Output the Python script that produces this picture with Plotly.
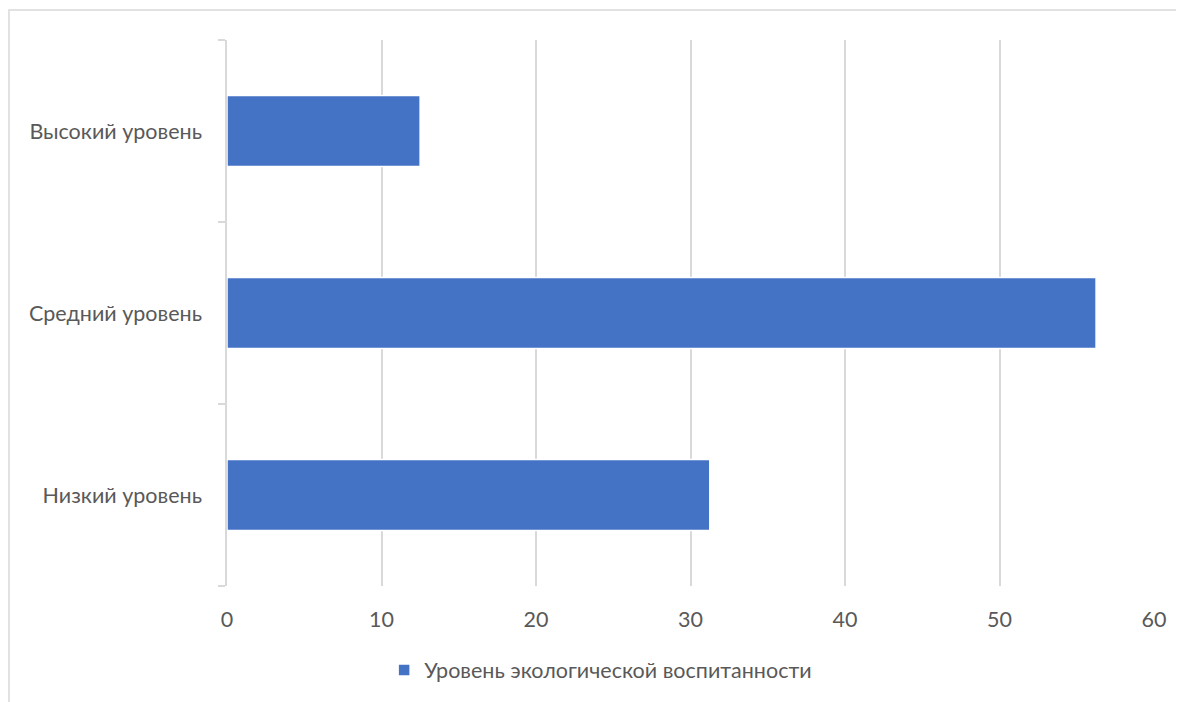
import plotly.graph_objects as go

categories = ["Низкий уровень", "Средний уровень", "Высокий уровень"]
values = [31.25, 56.25, 12.5]
series_name = "Уровень экологической воспитанности"
x_ticks = [0, 10, 20, 30, 40, 50, 60]

FONT = "Lato"
FS = 21.5
GRID = "#d9d9d9"
TXT = "#595959"

fig = go.Figure()
fig.add_trace(go.Bar(
    y=categories, x=values, orientation="h", name=series_name,
    marker=dict(color="#4472C4", line=dict(color="white", width=1.5)),
    width=0.39, showlegend=True,
))

fig.update_layout(
    width=1184, height=702,
    margin=dict(l=219, r=38, t=32, b=124),
    paper_bgcolor="white", plot_bgcolor="white",
    font=dict(family=FONT, size=FS, color=TXT),
    showlegend=True,
    legend=dict(orientation="h", x=0.1695, xanchor="left", y=-0.154, yanchor="middle",
                font=dict(family=FONT, size=FS, color=TXT)),
    xaxis=dict(range=[0, 60], tickvals=x_ticks, showgrid=True, gridcolor=GRID, gridwidth=1.5,
               zeroline=False, showline=False, ticks="", ticklabelstandoff=18,
               tickfont=dict(family=FONT, size=FS, color=TXT)),
    yaxis=dict(categoryorder="array", categoryarray=categories, showgrid=False, zeroline=False,
               showline=True, linecolor=GRID, linewidth=1.5, ticks="outside", tickson="boundaries",
               ticklen=7, tickcolor=GRID, tickwidth=1.5, ticklabelstandoff=19,
               tickfont=dict(family=FONT, size=FS, color=TXT)),
    shapes=[dict(type="rect", xref="paper", yref="paper",
                 x0=-0.2352, x1=1.07, y0=-0.25, y1=1.0549,
                 line=dict(color=GRID, width=1.5), fillcolor="rgba(0,0,0,0)", layer="below")],
)

fig.write_html("out.html")
